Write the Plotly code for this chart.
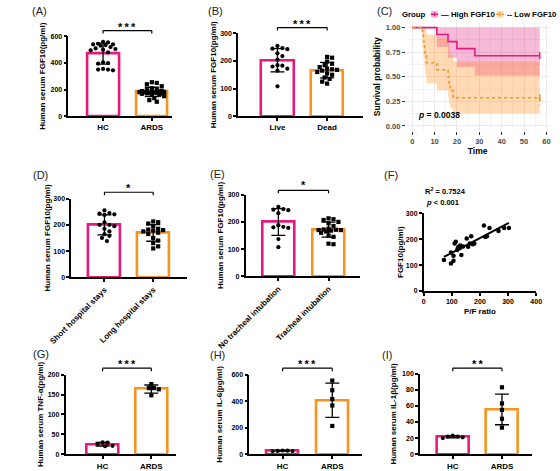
import numpy as np
import plotly.graph_objects as go

W, H = 560, 471
PINK = '#E8197D'
ORANGE = '#F7931E'
FONT = 'Liberation Sans, Arial, sans-serif'

# ---------------- data ----------------
A_CATS = ['HC', 'ARDS']
A_HC = [555, 560, 545, 540, 535, 540, 530, 520, 510, 505, 500, 495, 480, 405, 400, 395, 350, 350, 355, 345]
A_ARDS = [255, 250, 240, 225, 210, 200, 195, 190, 188, 185, 185, 182, 180, 180, 178, 176, 175, 172, 170, 168,
          165, 160, 150, 135, 120, 108]
B_CATS = ['Live', 'Dead']
B_LIVE = [255, 247, 245, 243, 228, 218, 205, 185, 183, 180, 172, 165, 108]
B_DEAD = [215, 212, 198, 190, 185, 178, 172, 170, 168, 165, 160, 155, 150, 140, 135, 125, 118]
D_CATS = ['Short hospital stays', 'Long hospital stays']
D_SHORT = [255, 245, 243, 240, 238, 210, 200, 200, 195, 185, 175, 165, 158, 150, 138]
D_LONG = [213, 210, 205, 195, 185, 182, 180, 178, 175, 170, 165, 150, 140, 130, 118, 110]
E_CATS = ['No tracheal intubation', 'Tracheal intubation']
E_NO = [255, 247, 245, 243, 232, 188, 182, 180, 178, 137, 107]
E_YES = [213, 210, 207, 200, 195, 185, 175, 172, 171, 170, 170, 168, 165, 160, 150, 145, 120, 118]
F_PF = [72, 97, 106, 97, 106, 110, 114, 119, 125, 130, 134, 153, 158, 164, 169, 175, 180, 214, 219, 225, 234,
        266, 286, 303, 122, 140, 128]
F_FGF = [120, 149, 136, 106, 117, 184, 190, 159, 171, 176, 139, 203, 171, 184, 212, 181, 184, 253, 209, 212, 244,
         232, 244, 244, 168, 172, 165]
G_CATS = ['HC', 'ARDS']
G_HC = [30, 29, 26, 21, 20]
G_ARDS = [176, 166, 166, 163, 148]
H_HC = [27, 28, 25, 24, 22]
H_ARDS = [555, 482, 416, 367, 213]
I_HC = [21, 23, 22, 22, 20]
I_ARDS = [83, 63, 55, 44, 33]

KM_HIGH_T = [0, 11, 16, 20, 28, 57]
KM_HIGH_S = [1.0, 0.929, 0.857, 0.786, 0.714, 0.714]
KM_HIGH_LO = [1.0, 0.803, 0.692, 0.598, 0.513, 0.513]
KM_HIGH_UP = [1.0, 1.0, 1.0, 1.0, 1.0, 1.0]
KM_LOW_T = [0, 4.6, 5.0, 5.5, 5.8, 6.3, 11, 16, 16.5, 17, 18.3, 57]
KM_LOW_S = [1.0, 0.929, 0.857, 0.786, 0.714, 0.643, 0.571, 0.5, 0.429, 0.357, 0.286, 0.214]
KM_LOW_LO = [1.0, 0.803, 0.692, 0.598, 0.513, 0.435, 0.363, 0.296, 0.234, 0.177, 0.125, 0.079]
KM_LOW_UP = [1.0, 1.0, 1.0, 1.0, 0.99, 0.93, 0.90, 0.84, 0.785, 0.72, 0.655, 0.584]

fig = go.Figure()
layout = {}
shapes = []
annots = []


def fx(p):
    return p / W


def fy(p):
    return 1 - p / H


def swarm(vals, ypu, xpu, d=4.4, maxw=15.0):
    vals = np.asarray(vals, float)
    offs = np.zeros(len(vals))
    placed = []
    cands = [0.0]
    step = d * 0.6
    k = 1
    while k * step <= maxw:
        cands += [k * step, -k * step]
        k += 1
    for i in np.argsort(-vals):
        y = vals[i] * ypu
        best, bestd = 0.0, -1.0
        for c in cands:
            md = min([np.hypot(c - px, y - py) for px, py in placed] + [99.0])
            if md >= d:
                best = c
                break
            if md > bestd:
                best, bestd = c, md
        placed.append((best, y))
        offs[i] = best / xpu
    return offs


def bold(size, color='black'):
    return dict(family=FONT, size=size, color=color, weight='bold')


def bar_panel(n, xl, xr, c0, c1, y0, ytop, ymax, dtick, cats, g1, g2, stars, ybr, ystar, title, standoff,
              tickangle=0):
    xa, ya = f'x{n}', f'y{n}'
    s = c1 - c0
    ypu = (y0 - ytop) / ymax
    means = [float(np.mean(g1)), float(np.mean(g2))]
    sds = [float(np.std(g1, ddof=1)), float(np.std(g2, ddof=1))]
    fig.add_trace(go.Bar(x=[0, 1], y=means, width=0.65, xaxis=xa, yaxis=ya, showlegend=False,
                         marker=dict(color='white', line=dict(color=[PINK, ORANGE], width=2.6))))
    for i, (g, sym) in enumerate([(g1, 'circle'), (g2, 'square')]):
        offs = swarm(g, ypu, s)
        fig.add_trace(go.Scatter(x=i + offs, y=g, mode='markers', xaxis=xa, yaxis=ya, showlegend=False,
                                 cliponaxis=False, marker=dict(symbol=sym, size=4.2, color='black')))
    fig.add_trace(go.Scatter(x=[0, 1], y=means, mode='markers', xaxis=xa, yaxis=ya, showlegend=False,
                             cliponaxis=False, marker=dict(size=2, color='rgba(0,0,0,0)'),
                             error_y=dict(type='data', array=sds, color='black', thickness=1.3, width=7)))
    key = '' if n == 1 else str(n)
    layout['xaxis' + key] = dict(domain=[fx(xl), fx(xr)], range=[(xl - c0) / s, (xr - c0) / s], anchor=ya,
                                 showline=True, linecolor='black', linewidth=1.5, ticks='outside', ticklen=3,
                                 tickwidth=1.5, tickcolor='black', tickvals=[0, 1], ticktext=cats,
                                 tickfont=bold(8), tickangle=tickangle, showgrid=False, zeroline=False)
    layout['yaxis' + key] = dict(domain=[fy(y0), fy(ytop)], range=[0, ymax], anchor=xa, showline=True,
                                 linecolor='black', linewidth=1.5, ticks='outside', ticklen=3, tickwidth=1.5,
                                 tickcolor='black', dtick=dtick, tickfont=bold(7), showgrid=False,
                                 zeroline=False, title=dict(text=title, font=bold(8), standoff=standoff))
    for x0, x1, ya0, ya1 in [(0, 1, ybr, ybr), (0, 0, ybr, ybr + 3), (1, 1, ybr, ybr + 3)]:
        shapes.append(dict(type='line', xref=xa, yref='paper', x0=x0, x1=x1, y0=fy(ya0), y1=fy(ya1),
                           line=dict(color='black', width=1.2)))
    annots.append(dict(text=stars, xref=xa, yref='paper', x=0.5, y=fy(ystar), showarrow=False,
                       xanchor='center', yanchor='middle', font=bold(11)))


ST3 = '*\u2009*\u2009*'
ST2 = '*\u2009*'
bar_panel(1, 42, 152, 79, 131, 114, 33, 600, 200, A_CATS, A_HC, A_ARDS, ST3, 27, 23,
          'Human serum FGF10(pg/ml)', 4)
bar_panel(2, 223, 356, 265, 318, 114, 30, 300, 100, B_CATS, B_LIVE, B_DEAD, ST3, 24, 20,
          'Human serum FGF10(pg/ml)', 2)
bar_panel(4, 45, 168, 80.5, 132.5, 278, 198, 300, 100, D_CATS, D_SHORT, D_LONG, '*', 191.5, 187,
          'Human serum FGF10(pg/ml)', 2, tickangle=-45)
bar_panel(5, 231, 353, 266, 319.5, 277, 194, 300, 100, E_CATS, E_NO, E_YES, '*', 189.5, 184,
          'Human serum FGF10(pg/ml)', 3, tickangle=-45)
bar_panel(7, 39, 157, 78.5, 130.5, 458, 377, 200, 50, G_CATS, G_HC, G_ARDS, ST3, 370.5, 366.5,
          'Human serum TNF-\u03b1(pg/ml)', 3)
bar_panel(8, 235, 355, 270.5, 323.5, 458, 377, 600, 200, G_CATS, H_HC, H_ARDS, ST3, 370.5, 366.5,
          'Human serum IL-6(pg/ml)', 8)
bar_panel(9, 417, 537, 452, 504.5, 458, 376, 100, 20, G_CATS, I_HC, I_ARDS, ST2, 370.5, 366,
          'Human serum IL-1\u03b2(pg/ml)', 4)

# ---------------- panel C (Kaplan-Meier) ----------------
for t, lo, up, col in [(KM_HIGH_T, KM_HIGH_LO, KM_HIGH_UP, 'rgba(231,41,138,0.33)'),
                       (KM_LOW_T, KM_LOW_LO, KM_LOW_UP, 'rgba(255,140,26,0.32)')]:
    fig.add_trace(go.Scatter(x=t, y=lo, mode='lines', line=dict(width=0, shape='hv'), xaxis='x3', yaxis='y3',
                             showlegend=False, hoverinfo='skip'))
    fig.add_trace(go.Scatter(x=t, y=up, mode='lines', line=dict(width=0, shape='hv'), fill='tonexty',
                             fillcolor=col, xaxis='x3', yaxis='y3', showlegend=False, hoverinfo='skip'))
fig.add_trace(go.Scatter(x=KM_HIGH_T, y=KM_HIGH_S, mode='lines', line=dict(color=PINK, width=1.6, shape='hv'),
                         xaxis='x3', yaxis='y3', showlegend=False))
fig.add_trace(go.Scatter(x=KM_LOW_T, y=KM_LOW_S, mode='lines',
                         line=dict(color=ORANGE, width=1.6, shape='hv', dash='dot'),
                         xaxis='x3', yaxis='y3', showlegend=False))
fig.add_trace(go.Scatter(x=[KM_HIGH_T[-1]], y=[KM_HIGH_S[-1]], mode='markers', xaxis='x3', yaxis='y3',
                         showlegend=False, cliponaxis=False,
                         marker=dict(symbol='line-ns-open', size=5, color=PINK, line=dict(color=PINK, width=1.5))))
fig.add_trace(go.Scatter(x=[KM_LOW_T[-1]], y=[KM_LOW_S[-2]], mode='markers', xaxis='x3', yaxis='y3',
                         showlegend=False, cliponaxis=False,
                         marker=dict(symbol='line-ns-open', size=5, color=ORANGE,
                                     line=dict(color=ORANGE, width=1.5))))
layout['xaxis3'] = dict(domain=[fx(402), fx(555)], range=[-2.85, 61.3], anchor='y3', showline=False,
                        ticks='outside', ticklen=3, tickcolor='#333', tickwidth=1, dtick=10,
                        tickfont=bold(7.5, '#4D4D4D'), showgrid=True, gridcolor='#EBEBEB', gridwidth=1,
                        minor=dict(dtick=5, showgrid=True, gridcolor='#F4F4F4', gridwidth=0.6),
                        zeroline=False, title=dict(text='Time', font=bold(8.5), standoff=0))
layout['yaxis3'] = dict(domain=[fy(129), fy(19)], range=[-0.05, 1.05], anchor='x3', showline=False,
                        ticks='outside', ticklen=3, tickcolor='#333', tickwidth=1, dtick=0.25,
                        tickformat='.2f', tickfont=bold(7.5, '#4D4D4D'), showgrid=True, gridcolor='#EBEBEB',
                        gridwidth=1, minor=dict(dtick=0.125, showgrid=True, gridcolor='#F4F4F4', gridwidth=0.6),
                        zeroline=False, title=dict(text='Survival probability', font=bold(8.5), standoff=3))
annots.append(dict(text='<i>p</i> = 0.0038', xref='x3', yref='y3', x=1.5, y=0.11, showarrow=False,
                   xanchor='left', yanchor='middle', font=bold(8.5)))
# legend
annots.append(dict(text='Group', xref='paper', yref='paper', x=fx(396), y=fy(10.5), showarrow=False,
                   xanchor='left', yanchor='middle', font=bold(7.8)))
for kx, col, fcol, lbl, dash in [(429, PINK, 'rgba(231,41,138,0.35)', '\u2014 High FGF10', 'solid'),
                                 (499, ORANGE, 'rgba(255,140,26,0.35)', '-- Low FGF10', 'dot')]:
    shapes.append(dict(type='rect', xref='paper', yref='paper', x0=fx(kx), x1=fx(kx + 7), y0=fy(7), y1=fy(14),
                       fillcolor=fcol, line=dict(width=0)))
    shapes.append(dict(type='line', xref='paper', yref='paper', x0=fx(kx - 0.5), x1=fx(kx + 7.5),
                       y0=fy(10.5), y1=fy(10.5), line=dict(color=col, width=1.5, dash=dash)))
    shapes.append(dict(type='line', xref='paper', yref='paper', x0=fx(kx + 3.5), x1=fx(kx + 3.5),
                       y0=fy(8.5), y1=fy(12.5), line=dict(color=col, width=1.2)))
    annots.append(dict(text=lbl, xref='paper', yref='paper', x=fx(kx + 8.5), y=fy(10.5), showarrow=False,
                       xanchor='left', yanchor='middle', font=bold(7.8)))

# ---------------- panel F (scatter + fit) ----------------
fig.add_trace(go.Scatter(x=F_PF, y=F_FGF, mode='markers', xaxis='x6', yaxis='y6', showlegend=False,
                         cliponaxis=False, marker=dict(size=4.5, color='black')))
coef = np.polyfit(F_PF, F_FGF, 1)
xf = np.array([min(F_PF), max(F_PF)])
fig.add_trace(go.Scatter(x=xf, y=np.polyval(coef, xf), mode='lines', xaxis='x6', yaxis='y6', showlegend=False,
                         line=dict(color='black', width=2)))
layout['xaxis6'] = dict(domain=[fx(421), fx(541)], range=[0, 400], anchor='y6', showline=True,
                        linecolor='black', linewidth=1.5, ticks='outside', ticklen=3, tickwidth=1.5,
                        tickcolor='black', dtick=100, tickfont=bold(7), showgrid=False, zeroline=False,
                        title=dict(text='P/F ratio', font=bold(8), standoff=4))
layout['yaxis6'] = dict(domain=[fy(292), fy(213)], range=[0, 300], anchor='x6', showline=True,
                        linecolor='black', linewidth=1.5, ticks='outside', ticklen=3, tickwidth=1.5,
                        tickcolor='black', dtick=100, tickfont=bold(7), showgrid=False, zeroline=False,
                        title=dict(text='FGF10(pg/ml)', font=bold(8), standoff=1))
annots.append(dict(text='R<sup>2</sup> = 0.7524', xref='paper', yref='paper', x=fx(420), y=fy(190),
                   showarrow=False, xanchor='left', yanchor='middle', font=bold(7.5)))
annots.append(dict(text='<i>p</i> < 0.001', xref='paper', yref='paper', x=fx(421), y=fy(202),
                   showarrow=False, xanchor='left', yanchor='middle', font=bold(7.5)))

# ---------------- panel labels ----------------
for lbl, x, y in [('(A)', 1, 7), ('(B)', 189, 7), ('(C)', 369, 7), ('(D)', 2, 174), ('(E)', 191, 173),
                  ('(F)', 377, 174), ('(G)', 2, 356), ('(H)', 191, 357), ('(I)', 374, 357)]:
    annots.append(dict(text=lbl, xref='paper', yref='paper', x=fx(x), y=fy(y), showarrow=False,
                       xanchor='left', yanchor='middle', font=dict(family=FONT, size=11, color='#222')))

fig.update_layout(width=W, height=H, autosize=False, margin=dict(l=0, r=0, t=0, b=0),
                  paper_bgcolor='white', plot_bgcolor='white', shapes=shapes, annotations=annots,
                  font=dict(family=FONT), bargap=0, **layout)
fig.write_html('out.html')
